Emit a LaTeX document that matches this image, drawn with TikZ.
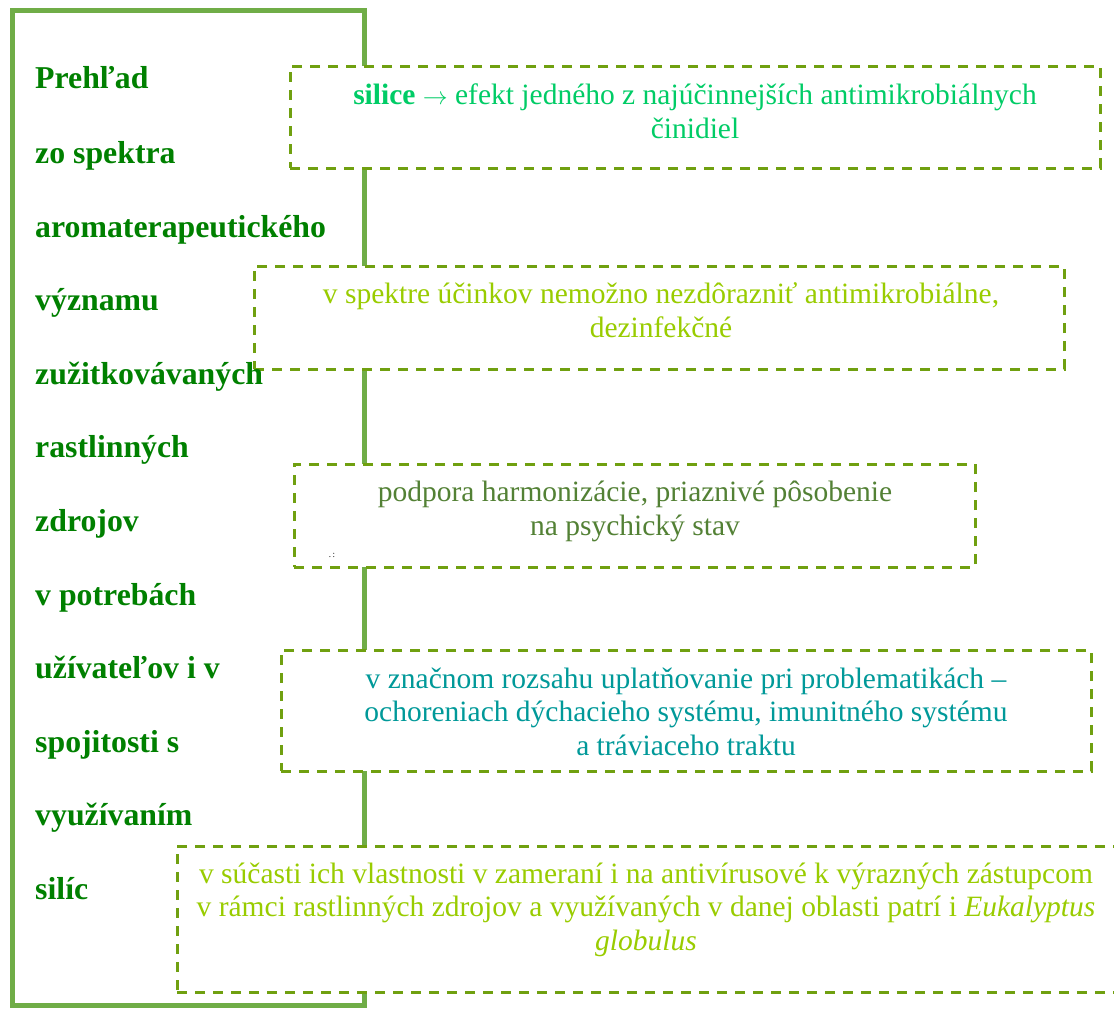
\documentclass[tikz,border=0pt]{standalone}
\usepackage{fontspec}
\setmainfont{Liberation Serif}
\definecolor{framegreen}{RGB}{112,173,71}
\definecolor{dashgreen}{RGB}{112,160,16}
\definecolor{leftgreen}{RGB}{0,128,0}
\definecolor{springg}{RGB}{0,204,102}
\definecolor{limeg}{RGB}{153,204,0}
\definecolor{oliveg}{RGB}{83,129,53}
\definecolor{tealg}{RGB}{0,153,153}
\tikzset{
  dbox/.style={draw=dashgreen, line width=3pt, dash pattern=on 10pt off 8pt, fill=white, rectangle, inner sep=0pt},
  lword/.style={anchor=base west, inner sep=0pt, text=leftgreen, font=\fontsize{31.8}{36}\selectfont\bfseries},
  btext/.style={anchor=base, inner sep=0pt, align=center, font=\fontsize{29.5}{33.5}\selectfont},
}
\begin{document}
\begin{tikzpicture}[x=1pt,y=-1pt]
\useasboundingbox (0,0) rectangle (1114,1010);
% outer frame
\node[draw=framegreen, line width=5pt, rectangle, inner sep=0pt, minimum width=352pt, minimum height=995pt] (frame) at (188.5,508) {};
% dashed boxes
\node[dbox, minimum width=810pt, minimum height=102pt] (b1) at (695,117) {};
\node[dbox, minimum width=810pt, minimum height=103pt] (b2) at (659,317.5) {};
\node[dbox, minimum width=681pt, minimum height=103pt] (b3) at (634.5,515.5) {};
\node[dbox, minimum width=810pt, minimum height=121pt] (b4) at (686,710.5) {};
\node[dbox, minimum width=940pt, minimum height=146pt] (b5) at (647,919) {};
% left column words
\node[lword] (l1) at (35,88) {Prehľad};
\node[lword] (l2) at (35,163) {zo spektra};
\node[lword] (l3) at (35,237) {aromaterapeutického};
\node[lword] (l4) at (35,310) {významu};
\node[lword] (l5) at (35,384) {zužitkovávaných};
\node[lword] (l6) at (35,457) {rastlinných};
\node[lword] (l7) at (35,531) {zdrojov};
\node[lword] (l8) at (35,605) {v potrebách};
\node[lword] (l9) at (35,678) {užívateľov i v};
\node[lword] (l10) at (35,752) {spojitosti s};
\node[lword] (l11) at (35,825) {využívaním};
\node[lword] (l12) at (35,899) {silíc};
% box texts (anchor = baseline of last line)
\node[btext, text=springg] (t1) at (695,138) {\textbf{silice} $\rightarrow$ efekt jedného z najúčinnejších antimikrobiálnych\\činidiel};
\node[btext, text=limeg] (t2) at (661,337) {v spektre účinkov nemožno nezdôrazniť antimikrobiálne,\\dezinfekčné};
\node[btext, text=oliveg] (t3) at (635,535) {podpora harmonizácie, priaznivé pôsobenie\\na psychický stav};
\node[inner sep=0pt, font=\fontsize{9}{9}\selectfont] (dots) at (332,555) {.\,:};
\node[btext, text=tealg] (t4) at (686,755) {v značnom rozsahu uplatňovanie pri problematikách –\\ochoreniach dýchacieho systému, imunitného systému\\a tráviaceho traktu};
\node[btext, text=limeg] (t5) at (646,950) {v súčasti ich vlastnosti v zameraní i na antivírusové k výrazných zástupcom\\v rámci rastlinných zdrojov a využívaných v danej oblasti patrí i \textit{Eukalyptus}\\\textit{globulus}};
\end{tikzpicture}
\end{document}
